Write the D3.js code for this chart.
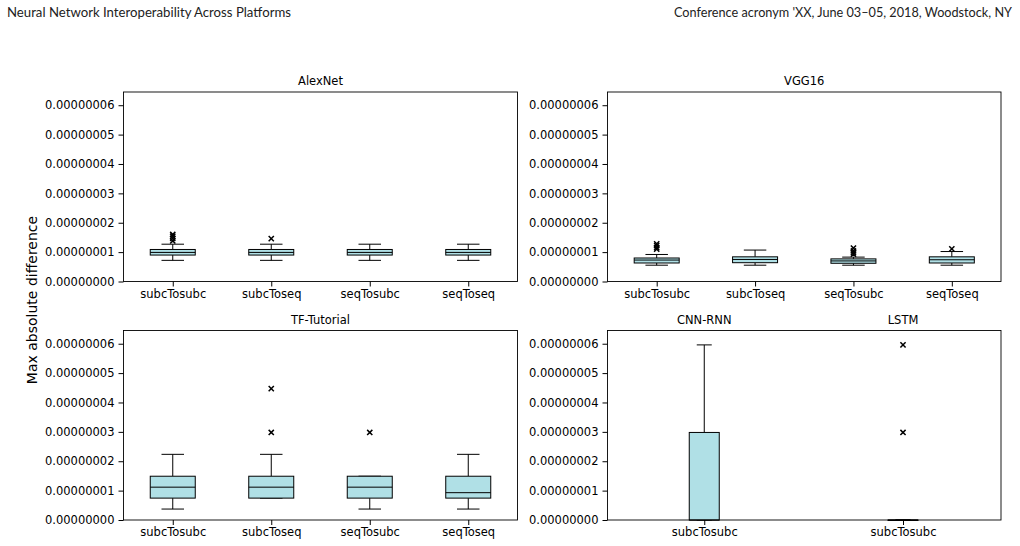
<!DOCTYPE html>
<html>
<head>
<meta charset="utf-8">
<script src="https://cdn.jsdelivr.net/npm/d3@7"></script>
<style>
  body { margin: 0; background: #fff; }
  svg { display: block; }
</style>
</head>
<body>
<div id="chart"></div>
<script>
// box stats per category: [whiskerLow, q1, median, q3, whiskerHigh]
const categories = ["subcTosubc", "subcToseq", "seqTosubc", "seqToseq"]

const alexnetBoxes = [
  [0.72e-8, 0.90e-8, 0.99e-8, 1.09e-8, 1.27e-8],
  [0.72e-8, 0.90e-8, 0.99e-8, 1.09e-8, 1.27e-8],
  [0.72e-8, 0.90e-8, 0.99e-8, 1.09e-8, 1.27e-8],
  [0.72e-8, 0.90e-8, 0.99e-8, 1.09e-8, 1.27e-8]
]
const alexnetOutliers = [[1.38e-8, 1.47e-8, 1.54e-8, 1.60e-8], [1.46e-8], [], []]

const vggBoxes = [
  [0.555e-8, 0.63e-8, 0.73e-8, 0.80e-8, 0.92e-8],
  [0.555e-8, 0.64e-8, 0.75e-8, 0.84e-8, 1.07e-8],
  [0.555e-8, 0.62e-8, 0.70e-8, 0.77e-8, 0.83e-8],
  [0.555e-8, 0.63e-8, 0.74e-8, 0.84e-8, 1.02e-8]
]
const vggOutliers = [[1.10e-8, 1.15e-8, 1.22e-8, 1.28e-8], [], [0.93e-8, 0.98e-8, 1.04e-8, 1.14e-8], [1.11e-8]]

const tfBoxes = [
  [0.3725e-8, 0.745e-8, 1.1175e-8, 1.49e-8, 2.235e-8],
  [0.745e-8, 0.745e-8, 1.1175e-8, 1.49e-8, 2.235e-8],
  [0.3725e-8, 0.745e-8, 1.1175e-8, 1.49e-8, 1.49e-8],
  [0.3725e-8, 0.745e-8, 0.93e-8, 1.49e-8, 2.235e-8]
]
const tfOutliers = [[], [2.98e-8, 4.47e-8], [2.98e-8], []]

const rnnCategories = ["subcTosubc"]
const cnnRnnBoxes = [[0, 0, 0, 2.98e-8, 5.96e-8]]
const cnnRnnOutliers = [[]]
const lstmBoxes = [[0, 0, 0, 0, 0]]
const lstmOutliers = [[2.98e-8, 5.96e-8]]

const yTicks = [0, 1e-8, 2e-8, 3e-8, 4e-8, 5e-8, 6e-8]

const width = 1020, height = 546
const boxFill = "#b0e0e6"
const fmt = d3.format(".8f")

const svg = d3.select("#chart").append("svg")
  .attr("width", width)
  .attr("height", height)

// page header
svg.append("text")
  .attr("x", 7).attr("y", 17)
  .attr("textLength", 284).attr("lengthAdjust", "spacingAndGlyphs")
  .style("font", "13px Lato, sans-serif").attr("fill", "#222")
  .text("Neural Network Interoperability Across Platforms")
svg.append("text")
  .attr("x", 1012).attr("y", 17)
  .attr("text-anchor", "end")
  .attr("textLength", 338).attr("lengthAdjust", "spacingAndGlyphs")
  .style("font", "13px Lato, sans-serif").attr("fill", "#222")
  .text("Conference acronym 'XX, June 03\u201305, 2018, Woodstock, NY")

svg.append("text")
  .attr("transform", "translate(37,300) rotate(-90)")
  .attr("text-anchor", "middle")
  .style("font", "14px 'DejaVu Sans', sans-serif")
  .text("Max absolute difference")

const drawPanel = (opts) => {
  const { x0, x1, y0, y1, cats, boxes, outliers, title, boxW, showFrame } = opts
  const x = d3.scalePoint().domain(cats).range([x0, x1]).padding(0.5)
  const y = d3.scaleLinear().domain([0, 6.45e-8]).range([y1, y0])
  const g = svg.append("g")

  if (opts.yAxis) {
    const ya = g.append("g")
      .attr("transform", `translate(${x0},0)`)
      .call(d3.axisLeft(y).tickValues(yTicks).tickFormat(fmt).tickSize(5).tickPadding(4))
    ya.select(".domain").remove()
    ya.selectAll("text").style("font", "11.5px 'DejaVu Sans', sans-serif").attr("fill", "#000")
  }
  const xa = g.append("g")
    .attr("transform", `translate(0,${y1})`)
    .call(d3.axisBottom(x).tickSize(5).tickPadding(3))
  xa.select(".domain").remove()
  xa.selectAll("text").style("font", "11.5px 'DejaVu Sans', sans-serif").attr("fill", "#000")

  if (showFrame) {
    g.append("rect")
      .attr("x", x0).attr("y", y0)
      .attr("width", x1 - x0).attr("height", y1 - y0)
      .attr("fill", "none").attr("stroke", "#000").attr("stroke-width", 0.9)
  }

  if (title) {
    g.append("text")
      .attr("x", (x0 + x1) / 2).attr("y", y0 - 7)
      .attr("text-anchor", "middle")
      .style("font", "11.5px 'DejaVu Sans', sans-serif")
      .text(title)
  }

  const bx = g.selectAll("g.box")
    .data(boxes)
    .enter().append("g")
    .attr("class", "box")
    .attr("transform", (d, i) => `translate(${x(cats[i])},0)`)

  // whiskers
  bx.append("line")
    .attr("y1", d => y(d[0])).attr("y2", d => y(d[1]))
    .attr("stroke", "#000")
  bx.append("line")
    .attr("y1", d => y(d[3])).attr("y2", d => y(d[4]))
    .attr("stroke", "#000")
  // caps
  bx.append("line")
    .attr("x1", -boxW / 4).attr("x2", boxW / 4)
    .attr("y1", d => y(d[0])).attr("y2", d => y(d[0]))
    .attr("stroke", "#000")
  bx.append("line")
    .attr("x1", -boxW / 4).attr("x2", boxW / 4)
    .attr("y1", d => y(d[4])).attr("y2", d => y(d[4]))
    .attr("stroke", "#000")
  // box
  bx.append("rect")
    .attr("x", -boxW / 2).attr("width", boxW)
    .attr("y", d => y(d[3]))
    .attr("height", d => Math.max(y(d[1]) - y(d[3]), 0.5))
    .attr("fill", boxFill).attr("stroke", "#000")
  // median
  bx.append("line")
    .attr("x1", -boxW / 2).attr("x2", boxW / 2)
    .attr("y1", d => y(d[2])).attr("y2", d => y(d[2]))
    .attr("stroke", "#000")

  // outliers as x markers
  const s = 2.6
  bx.each(function (d, i) {
    const og = d3.select(this)
    outliers[i].forEach(v => {
      og.append("path")
        .attr("d", `M${-s},${y(v) - s}L${s},${y(v) + s}M${-s},${y(v) + s}L${s},${y(v) - s}`)
        .attr("stroke", "#000").attr("stroke-width", 1.5)
    })
  })
}

drawPanel({ x0: 123.5, x1: 517.5, y0: 92, y1: 281.5, cats: categories, boxes: alexnetBoxes,
  outliers: alexnetOutliers, title: "AlexNet", boxW: 45, showFrame: true, yAxis: true })
drawPanel({ x0: 607.5, x1: 1001, y0: 92, y1: 281.5, cats: categories, boxes: vggBoxes,
  outliers: vggOutliers, title: "VGG16", boxW: 45, showFrame: true, yAxis: true })
drawPanel({ x0: 123.5, x1: 517.5, y0: 330.5, y1: 520, cats: categories, boxes: tfBoxes,
  outliers: tfOutliers, title: "TF-Tutorial", boxW: 45, showFrame: true, yAxis: true })
drawPanel({ x0: 607.5, x1: 1001, y0: 330.5, y1: 520, cats: [], boxes: [],
  outliers: [], title: null, boxW: 0, showFrame: true, yAxis: true })
drawPanel({ x0: 607.5, x1: 801, y0: 330.5, y1: 520, cats: rnnCategories, boxes: cnnRnnBoxes,
  outliers: cnnRnnOutliers, title: "CNN-RNN", boxW: 30, showFrame: false, yAxis: false })
drawPanel({ x0: 805, x1: 1001, y0: 330.5, y1: 520, cats: rnnCategories, boxes: lstmBoxes,
  outliers: lstmOutliers, title: "LSTM", boxW: 30, showFrame: false, yAxis: false })
</script>
</body>
</html>
